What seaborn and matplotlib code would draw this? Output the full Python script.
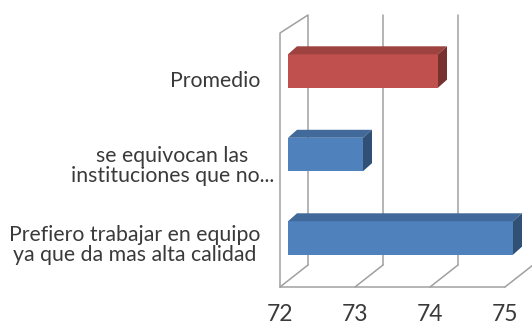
import matplotlib
matplotlib.use("Agg")
import numpy as np
import pandas as pd
import seaborn as sns
import matplotlib.pyplot as plt
from matplotlib.patches import Polygon
from matplotlib.colors import to_rgb
from matplotlib.transforms import ScaledTranslation, blended_transform_factory

# ---- data ----
categories = ["Promedio",
              "se equivocan las\ninstituciones que no...",
              "Prefiero trabajar en equipo\nya que da mas alta calidad"]
values = [74.0, 73.0, 75.0]
kinds = ["Promedio", "Pregunta", "Pregunta"]
x_ticks = [72, 73, 74, 75]
palette = {"Promedio": "#C0504D", "Pregunta": "#4F81BD"}

sns.set_theme(style="white")
plt.rcParams['font.family'] = ['Lato', 'DejaVu Sans']

DPI = 100
W, H = 532, 333
fig = plt.figure(figsize=(W / DPI, H / DPI), dpi=DPI)
ax = fig.add_axes([288 / W, (H - 287) / H, 225 / W, 254 / H])

df = pd.DataFrame({"cat": categories, "val": values, "kind": kinds})
sns.barplot(data=df, x="val", y="cat", hue="kind", palette=palette, orient="h",
            width=0.4, dodge=False, legend=False, saturation=1, linewidth=0,
            ax=ax, zorder=3)

xmin, xmax = x_ticks[0], x_ticks[-1]
ax.set_xlim(xmin, xmax)
ax.set_ylim(2.587, -0.455)
sns.despine(ax=ax, left=True, bottom=True, top=True, right=True)
ax.set_xlabel("")
ax.set_ylabel("")
ax.grid(False)

# ---- 3D faces for bars ----
px_x = 225 / (xmax - xmin)
px_y = 254 / (2.587 + 0.455)
ddx = 9 / px_x
ddy = -8 / px_y


def shade(c, f):
    r, g, b = to_rgb(c)
    return (r * f, g * f, b * f)


for p in list(ax.patches):
    x0 = max(p.get_x(), xmin)
    x1 = p.get_x() + p.get_width()
    y0 = p.get_y()
    y1 = y0 + p.get_height()
    col = p.get_facecolor()
    top = Polygon([(x0, y0), (x1, y0), (x1 + ddx, y0 + ddy), (x0 + ddx, y0 + ddy)],
                  closed=True, facecolor=shade(col, 0.82), edgecolor="none",
                  clip_on=False, zorder=3)
    side = Polygon([(x1, y0), (x1, y1), (x1 + ddx, y1 + ddy), (x1 + ddx, y0 + ddy)],
                   closed=True, facecolor=shade(col, 0.62), edgecolor="none",
                   clip_on=False, zorder=3)
    ax.add_patch(top)
    ax.add_patch(side)

# ---- 3D frame (walls / floor) ----
T = blended_transform_factory(ax.transData, ax.transAxes) + \
    ScaledTranslation(-8 / DPI, 0, fig.dpi_scale_trans)
dxu = 28 / px_x
dy_floor = 22 / 254
dy_top = 18 / 254
gc = "#A0A0A0"
lw = 1.1
kw = dict(transform=T, color=gc, lw=lw, clip_on=False, zorder=1)
# left wall
ax.plot([xmin, xmin, xmin + dxu, xmin + dxu], [0, 1, 1 + dy_top, dy_floor], **kw)
# back gridlines
for t in x_ticks[1:]:
    ax.plot([t + dxu, t + dxu], [dy_floor, 1 + dy_top], **kw)
# floor
for t in x_ticks:
    ax.plot([t, t + dxu], [0, dy_floor], **kw)
ax.plot([xmin, xmax], [0, 0], **kw)

# ---- ticks ----
ax.set_xticks(x_ticks)
ax.set_xticklabels([str(t) for t in x_ticks], fontsize=16.5, color="#3A3A3A")
ax.tick_params(axis="x", length=0, pad=12)
ax.tick_params(axis="y", length=0, pad=20)
for lab in ax.get_xticklabels():
    lab.set_transform(lab.get_transform() + ScaledTranslation(-8 / DPI, 0, fig.dpi_scale_trans))

ylab_shift = [(0, -8), (14, -10), (0, -5)]
for lab, (sx, sy) in zip(ax.get_yticklabels(), ylab_shift):
    lab.set_fontsize(15.3)
    lab.set_color("#3A3A3A")
    lab.set_multialignment("center")
    lab.set_linespacing(1.0)
    lab.set_transform(lab.get_transform() + ScaledTranslation(sx / DPI, sy / DPI, fig.dpi_scale_trans))

fig.savefig("out.png", dpi=DPI)
